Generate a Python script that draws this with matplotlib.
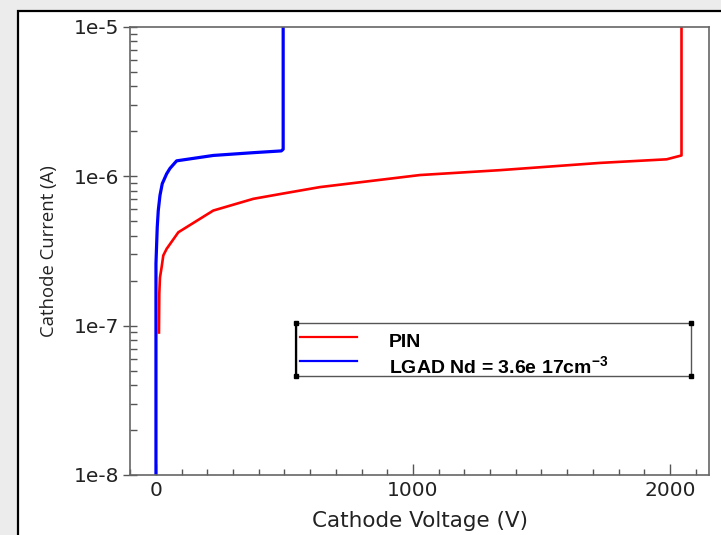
import matplotlib
matplotlib.use("Agg")
import matplotlib.pyplot as plt
from matplotlib.patches import Rectangle
from matplotlib.lines import Line2D
from matplotlib.ticker import LogLocator, FixedLocator, MultipleLocator

plt.rcParams["mathtext.default"] = "regular"

# ---- data ----
pin_v = [11.7, 13, 15.6, 22, 28.5, 41.6, 87, 223, 379, 500, 638, 1027, 1339, 1728, 1987, 2045, 2045]
pin_i = [9.0e-8, 1.64e-7, 2.1e-7, 2.46e-7, 2.95e-7, 3.27e-7, 4.22e-7, 5.9e-7, 7.07e-7, 7.7e-7,
         8.47e-7, 1.02e-6, 1.10e-6, 1.23e-6, 1.30e-6, 1.38e-6, 1.5e-5]
lgad_v = [0, 0, 5, 9, 15.6, 24.5, 41.6, 54.5, 80.5, 223, 378, 488, 495, 495]
lgad_i = [5e-9, 2.6e-7, 4.57e-7, 5.9e-7, 7.45e-7, 8.93e-7, 1.04e-6, 1.13e-6, 1.27e-6, 1.38e-6,
          1.44e-6, 1.48e-6, 1.52e-6, 1.5e-5]
x_ticks = [0, 1000, 2000]
x_tick_labels = ["0", "1000", "2000"]
y_ticks = [1e-8, 1e-7, 1e-6, 1e-5]
y_tick_labels = ["1e-8", "1e-7", "1e-6", "1e-5"]
legend_labels = ["PIN", "LGAD Nd = 3.6e 17cm$^{-3}$"]

W, H = 721, 535
fig = plt.figure(figsize=(W / 100, H / 100), dpi=100, facecolor="#ececec")

# white panel with black left/top border
panel = Rectangle((18 / W, -0.01), 1.0, 1 - 11 / H + 0.01, transform=fig.transFigure,
                  facecolor="white", edgecolor="black", linewidth=1.6, zorder=-5)
fig.patches.append(panel)

ax = fig.add_axes([130 / W, 1 - 475 / H, 579 / W, 448 / H])
ax.set_facecolor("white")

ax.plot(pin_v, pin_i, color="#ff0000", lw=1.9, solid_joinstyle="round")
ax.plot(lgad_v, lgad_i, color="#0000ff", lw=2.3, solid_joinstyle="round")

ax.set_yscale("log")
ax.set_xlim(-101, 2152)
ax.set_ylim(1e-8, 1e-5)

ax.xaxis.set_major_locator(FixedLocator(x_ticks))
ax.set_xticklabels(x_tick_labels)
ax.xaxis.set_minor_locator(MultipleLocator(100))
ax.yaxis.set_major_locator(FixedLocator(y_ticks))
ax.set_yticklabels(y_tick_labels)
ax.yaxis.set_minor_locator(LogLocator(base=10, subs=range(2, 10)))
ax.yaxis.set_minor_formatter(plt.NullFormatter())

for lab in ax.get_xticklabels() + ax.get_yticklabels():
    lab.set_fontfamily("DejaVu Sans")
    lab.set_fontsize(14.5)
    lab.set_color("#222222")

ax.tick_params(axis="x", which="major", direction="in", length=8, width=1, color="#555555", pad=4)
ax.tick_params(axis="x", which="minor", direction="in", length=4, width=1, color="#555555")
ax.tick_params(axis="y", which="major", direction="inout", length=10, width=1, color="#555555", pad=3)
ax.tick_params(axis="y", which="minor", direction="in", length=5, width=1, color="#555555")
ax.tick_params(top=False, right=False, which="both")

for s in ax.spines.values():
    s.set_color("#666666")
    s.set_linewidth(1.2)

ax.set_xlabel("Cathode Voltage (V)", fontsize=15.5, family="DejaVu Sans", color="#222222", labelpad=8)
ax.set_ylabel("Cathode Current (A)", fontsize=13.3, family="Open Sans", color="#222222", labelpad=11)

# custom legend box
x0, x1 = (296 - 130) / 579, (691 - 130) / 579
y0, y1 = (475 - 376) / 448, (475 - 323) / 448
ax.add_patch(Rectangle((x0, y0), x1 - x0, y1 - y0, transform=ax.transAxes,
                       facecolor="white", edgecolor="#555555", lw=1.0, zorder=5))
ax.add_line(Line2D([x0, x0], [y0, y1], transform=ax.transAxes, color="black", lw=1.6, zorder=6))
ax.add_line(Line2D([x0, x1, x0, x1], [y0, y0, y1, y1], transform=ax.transAxes, ls="none",
                   marker="s", ms=3.5, color="black", zorder=7))
ly = [(475 - 337) / 448, (475 - 361) / 448]
lx = [(300 - 130) / 579, (357 - 130) / 579]
for yy, c, lab in zip(ly, ["#ff0000", "#0000ff"], legend_labels):
    ax.add_line(Line2D(lx, [yy, yy], transform=ax.transAxes, color=c, lw=1.6, zorder=6))
    ax.text((389 - 130) / 579, yy - 0.012, lab, transform=ax.transAxes, fontsize=14,
            family="Liberation Sans", weight="bold", va="center", ha="left", zorder=6)

fig.savefig("out.png", dpi=100, facecolor=fig.get_facecolor())
